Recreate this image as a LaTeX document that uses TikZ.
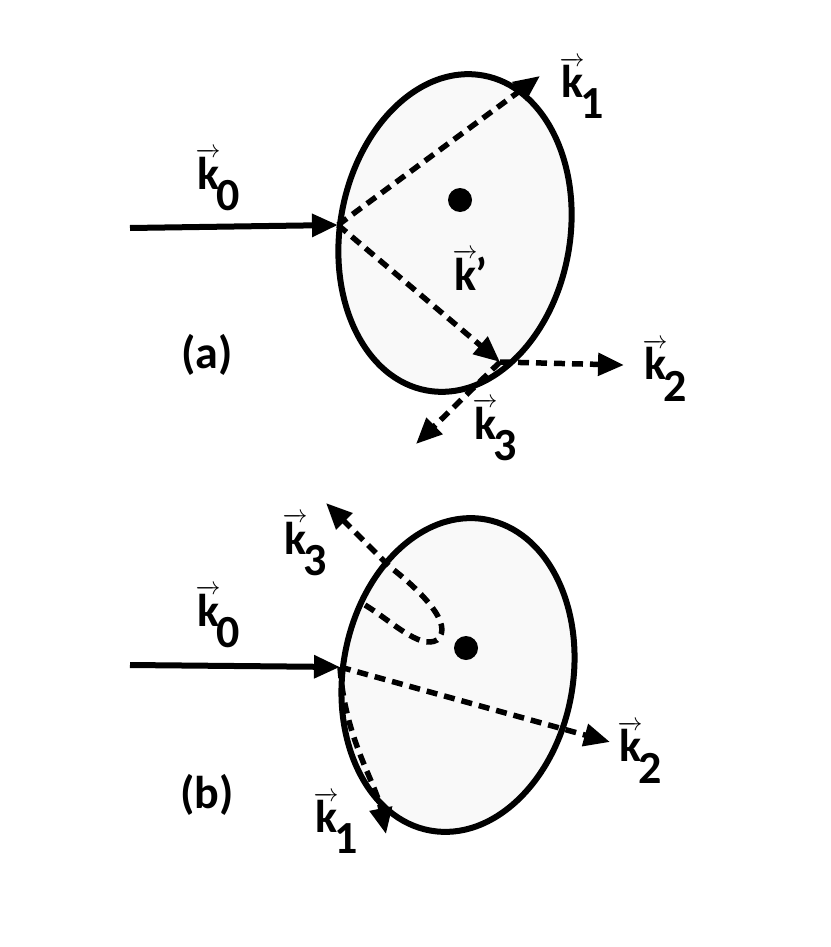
\documentclass[tikz,border=0pt]{standalone}
\usepackage{fontspec}
\setmainfont{Carlito}
\usetikzlibrary{arrows.meta}
\newcommand{\kv}[1]{$\overrightarrow{\mbox{\bfseries k}}\!_{\mbox{\bfseries #1}}$}
\tikzset{
  body/.style={line width=6pt, fill=gray!5},
  inc/.style={line width=6pt, -{Triangle[length=26pt,width=22pt]}},
  ray/.style={line width=5.5pt, dash pattern=on 11pt off 7pt, -{Triangle[length=26pt,width=22pt]}},
  lbl/.style={font=\fontsize{46}{50}\selectfont\bfseries},
  dotst/.style={fill=black, circle, minimum size=24pt, inner sep=0pt}
}
\begin{document}
\begin{tikzpicture}[x=1pt,y=-1pt]
\useasboundingbox (0,0) rectangle (830,947);
% (a)
\draw[body] (455,233) ellipse [x radius=115, y radius=160, rotate=-10];
\node[dotst] (da) at (460,200) {};
\coordinate (ea) at (338,225);
\coordinate (sa) at (130,228);
\coordinate (fa) at (500,362);
\coordinate (t1) at (540,76);
\coordinate (t2) at (624,365);
\coordinate (t3) at (416,444);
\draw[inc] (sa) -- (ea);
\draw[ray] (ea) -- (t1);
\draw[ray] (ea) -- (fa);
\draw[ray] (fa) -- (t2);
\draw[ray] (fa) -- (t3);
\node[lbl] (k0a) at (218,180) {\kv{0}};
\node[lbl] (k1a) at (582,88) {\kv{1}};
\node[lbl] (kpa) at (470,270) {$\overrightarrow{\mbox{\bfseries k}}$\kern-2pt’};
\node[lbl] (k2a) at (665,370) {\kv{2}};
\node[lbl] (k3a) at (495,430) {\kv{3}};
\node[lbl] (la) at (207,355) {(a)};
% (b)
\draw[body] (458,675) ellipse [x radius=115, y radius=158, rotate=-10];
\node[dotst] (db) at (466,648) {};
\coordinate (eb) at (340,667);
\coordinate (sb) at (130,665);
\coordinate (u2) at (610,742);
\coordinate (u1) at (386,834);
\coordinate (w3) at (365,605);
\coordinate (u3) at (326,503);
\draw[inc] (sb) -- (eb);
\draw[ray] (eb) -- (u2);
\draw[ray] (eb) .. controls (345,740) and (375,780) .. (u1);
\draw[ray] (w3) .. controls (390,620) and (420,650) .. (437,640)
  .. controls (455,625) and (420,590) .. (390,567) -- (u3);
\node[lbl] (k0b) at (218,617) {\kv{0}};
\node[lbl] (k3b) at (305,545) {\kv{3}};
\node[lbl] (k2b) at (640,752) {\kv{2}};
\node[lbl] (k1b) at (336,823) {\kv{1}};
\node[lbl] (lb) at (207,795) {(b)};
\end{tikzpicture}
\end{document}
